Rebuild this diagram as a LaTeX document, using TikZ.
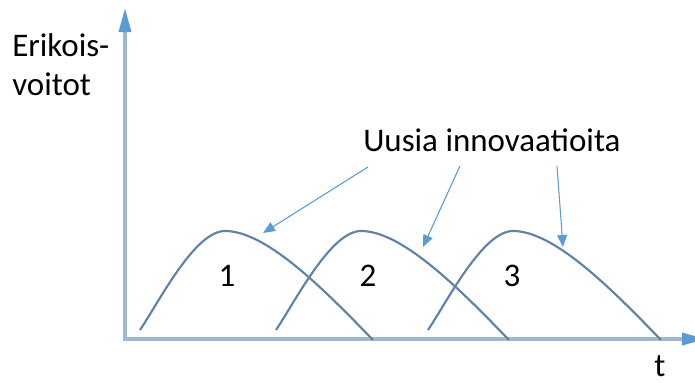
\documentclass[tikz,border=0pt]{standalone}
\usepackage{fontspec}
\setmainfont{Carlito}
\usetikzlibrary{arrows.meta}
\definecolor{axiscol}{RGB}{160,183,212}
\definecolor{tipcol}{RGB}{91,155,213}
\definecolor{curvecol}{RGB}{96,130,168}
\tikzset{
  axisline/.style={draw=axiscol, line width=2.7pt,
    -{Triangle[length=18pt,width=9pt,color=tipcol]}},
  bumpline/.style={draw=curvecol, line width=1.6pt},
  pointer/.style={draw=tipcol, line width=0.8pt,
    -{Triangle[length=9pt,width=7.5pt]}},
  lbl/.style={inner sep=0pt, font=\fontsize{24.75pt}{30pt}\selectfont, text=black}
}
\begin{document}
\begin{tikzpicture}[x=0.75pt,y=-0.75pt]
\useasboundingbox (0,0) rectangle (695,382);
\clip (0,0) rectangle (695,382);
% axes
\coordinate (O) at (125,339);
\coordinate (Ytop) at (125,8);
\coordinate (Xend) at (706,339);
\coordinate (Ostart) at (123,339);
\coordinate (Obot) at (125,341);
\draw[axisline] (Ostart) -- (Xend);
\draw[axisline] (Obot) -- (Ytop);
% bumps
\foreach \dx in {0,136,288}{
  \draw[bumpline, xshift=\dx*0.75pt]
    (140,330) .. controls (160,300) and (195,231) .. (225,231)
    .. controls (265,231) and (320,285) .. (373,340);
}
% labels
\node[lbl, anchor=base west] (ylab1) at (12,56) {Erikois-};
\node[lbl, anchor=base west] (ylab2) at (12,95) {voitot};
\node[lbl, anchor=base] (tlab) at (660,376) {t};
\node[lbl, anchor=base] (n1) at (227,286) {1};
\node[lbl, anchor=base] (n2) at (368,286) {2};
\node[lbl, anchor=base] (n3) at (512,286) {3};
\node[lbl, anchor=base west] (inno) at (363,151) {Uusia innovaatioita};
% pointers
\coordinate (s1) at (368,167);
\coordinate (s2) at (460,166);
\coordinate (s3) at (557,166);
\coordinate (e1) at (263,233);
\coordinate (e2) at (423,247);
\coordinate (e3) at (563,247);
\draw[pointer] (s1) -- (e1);
\draw[pointer] (s2) -- (e2);
\draw[pointer] (s3) -- (e3);
\end{tikzpicture}
\end{document}
